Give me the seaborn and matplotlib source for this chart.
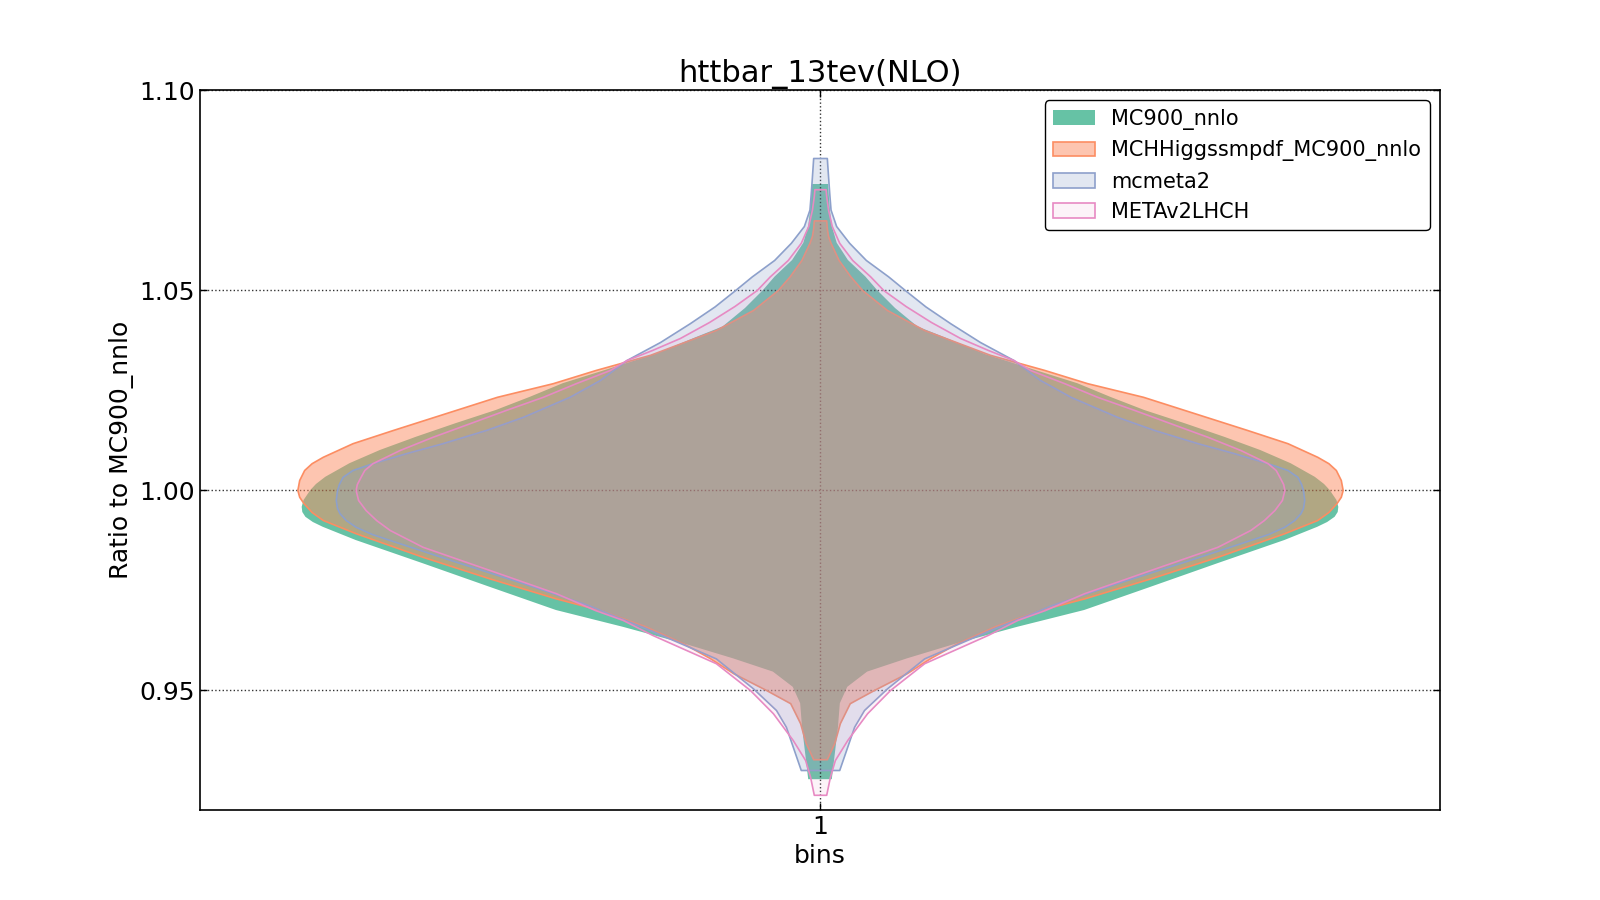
import numpy as np
import matplotlib
matplotlib.use("Agg")
import matplotlib.pyplot as plt
import seaborn as sns

# violin outlines: ratio value (y) and half width (x units)
mc900_y = [1.0765, 1.0740, 1.0700, 1.0660, 1.0618, 1.0575, 1.0534, 1.0500, 1.0455, 1.0409,
           1.0383, 1.0340, 1.0300, 1.0267, 1.0233, 1.0200, 1.0167, 1.0133, 1.0100, 1.0067,
           1.0033, 1.0015, 1.0000, 0.9975, 0.9958, 0.9945, 0.9933, 0.9920, 0.9908, 0.9875,
           0.9817, 0.9758, 0.9700, 0.9658, 0.9617, 0.9579, 0.9546, 0.9508, 0.9467, 0.9408,
           0.9277]
mc900_w = [0.013, 0.014, 0.016, 0.019, 0.027, 0.045, 0.073, 0.092, 0.121, 0.157,
           0.199, 0.266, 0.347, 0.415, 0.468, 0.523, 0.588, 0.652, 0.710, 0.759,
           0.798, 0.813, 0.822, 0.833, 0.836, 0.835, 0.830, 0.818, 0.802, 0.749,
           0.641, 0.533, 0.426, 0.318, 0.221, 0.140, 0.076, 0.044, 0.032, 0.029,
           0.019]

mch_y = [1.0674, 1.0655, 1.0635, 1.0618, 1.0575, 1.0534, 1.0500, 1.0450, 1.0400, 1.0383,
         1.0338, 1.0300, 1.0267, 1.0233, 1.0192, 1.0150, 1.0117, 1.0083, 1.0067, 1.0050,
         1.0025, 1.0000, 0.9983, 0.9967, 0.9945, 0.9925, 0.9892, 0.9833, 0.9779, 0.9729,
         0.9700, 0.9660, 0.9617, 0.9580, 0.9542, 0.9500, 0.9467, 0.9417, 0.9367, 0.9327]
mch_w = [0.010, 0.011, 0.013, 0.017, 0.030, 0.049, 0.068, 0.108, 0.168, 0.197,
         0.274, 0.362, 0.431, 0.521, 0.604, 0.689, 0.754, 0.802, 0.820, 0.832,
         0.840, 0.843, 0.840, 0.833, 0.820, 0.802, 0.749, 0.641, 0.533, 0.426,
         0.355, 0.283, 0.221, 0.178, 0.140, 0.087, 0.048, 0.032, 0.023, 0.011]

meta2_y = [1.0830, 1.0784, 1.0740, 1.0701, 1.0660, 1.0618, 1.0575, 1.0534, 1.0501, 1.0459,
           1.0417, 1.0370, 1.0325, 1.0275, 1.0233, 1.0183, 1.0150, 1.0117, 1.0092, 1.0067,
           1.0050, 1.0033, 1.0015, 1.0000, 0.9975, 0.9955, 0.9942, 0.9925, 0.9908, 0.9890,
           0.9875, 0.9821, 0.9767, 0.9713, 0.9685, 0.9658, 0.9633, 0.9579, 0.9504, 0.9450,
           0.9408, 0.9300]
meta2_w = [0.011, 0.013, 0.015, 0.017, 0.026, 0.047, 0.074, 0.110, 0.136, 0.170,
           0.210, 0.258, 0.312, 0.355, 0.404, 0.479, 0.539, 0.609, 0.668, 0.722,
           0.754, 0.770, 0.776, 0.779, 0.781, 0.779, 0.775, 0.765, 0.749, 0.723,
           0.694, 0.588, 0.479, 0.375, 0.331, 0.287, 0.249, 0.168, 0.108, 0.071,
           0.055, 0.031]

lhch_y = [1.0752, 1.0735, 1.0701, 1.0660, 1.0618, 1.0575, 1.0534, 1.0500, 1.0460, 1.0420,
          1.0380, 1.0350, 1.0325, 1.0300, 1.0267, 1.0233, 1.0200, 1.0167, 1.0133, 1.0100,
          1.0067, 1.0050, 1.0033, 1.0015, 1.0000, 0.9975, 0.9950, 0.9925, 0.9900, 0.9858,
          0.9800, 0.9742, 0.9700, 0.9675, 0.9638, 0.9567, 0.9500, 0.9442, 0.9375, 0.9325,
          0.9283, 0.9238]
lhch_w = [0.009, 0.010, 0.013, 0.019, 0.031, 0.052, 0.081, 0.102, 0.138, 0.179,
          0.226, 0.271, 0.312, 0.339, 0.394, 0.447, 0.507, 0.565, 0.625, 0.678,
          0.722, 0.735, 0.741, 0.747, 0.749, 0.745, 0.733, 0.716, 0.694, 0.641,
          0.533, 0.426, 0.363, 0.318, 0.271, 0.168, 0.113, 0.076, 0.044, 0.024,
          0.016, 0.010]

labels = ["MC900_nnlo", "MCHHiggssmpdf_MC900_nnlo", "mcmeta2", "METAv2LHCH"]
alphas = [1.0, 0.5, 0.25, 0.1]
bins = [1]

sns.set_style("ticks")
plt.rcParams['font.family'] = ['DejaVu Sans']
plt.rcParams['xtick.direction'] = 'in'
plt.rcParams['ytick.direction'] = 'in'
plt.rcParams['text.color'] = 'k'
plt.rcParams['axes.labelcolor'] = 'k'
plt.rcParams['xtick.color'] = 'k'
plt.rcParams['ytick.color'] = 'k'
colors = sns.color_palette("Set2", 4)

fig = plt.figure(figsize=(16, 9), dpi=100)
ax = fig.add_axes([0.125, 0.1, 0.775, 0.8])

profiles = [(mc900_y, mc900_w), (mch_y, mch_w), (meta2_y, meta2_w), (lhch_y, lhch_w)]
for i, (yy, ww) in enumerate(profiles):
    yy = np.array(yy)
    ww = np.array(ww)
    face = (*colors[i], alphas[i])
    edge = colors[i] if i > 0 else "none"
    ax.fill_betweenx(yy, bins[0] - ww, bins[0] + ww, facecolor=face,
                     edgecolor=edge, linewidth=1.2, label=labels[i], zorder=2 + i,
                     joinstyle='round')

ax.set_xlim(0, 2)
ax.set_ylim(0.92, 1.10)
ax.set_xticks(bins)
ax.set_xticklabels([str(b) for b in bins])
ax.set_yticks([0.95, 1.00, 1.05, 1.10])
ax.set_yticklabels(["0.95", "1.00", "1.05", "1.10"])
ax.tick_params(labelsize=18, top=True, right=True, length=5, width=1)
ax.grid(True, linestyle=':', color='k', linewidth=1, alpha=0.8)
ax.set_axisbelow(False)
for s in ax.spines.values():
    s.set_linewidth(1.2)
    s.set_color('k')

ax.set_title("httbar_13tev(NLO)", fontsize=22)
ax.set_xlabel("bins", fontsize=18)
ax.set_ylabel("Ratio to MC900_nnlo", fontsize=18)

leg = ax.legend(loc="upper right", fontsize=15, frameon=True, fancybox=True,
                borderaxespad=0.5, handlelength=2.0)
leg.get_frame().set_edgecolor('k')
leg.get_frame().set_alpha(1)

fig.savefig("out.png", dpi=100)
